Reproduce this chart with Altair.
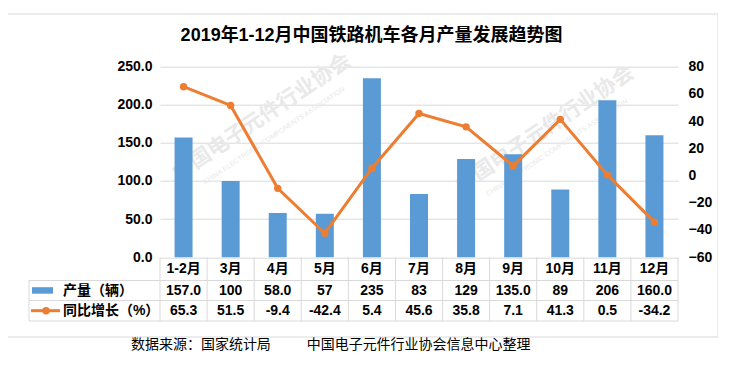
import altair as alt
import pandas as pd

# ---- data ----
categories = ["1-2月", "3月", "4月", "5月", "6月", "7月", "8月", "9月", "10月", "11月", "12月"]
production = [157.0, 100, 58.0, 57, 235, 83, 129, 135.0, 89, 206, 160.0]
production_labels = ["157.0", "100", "58.0", "57", "235", "83", "129", "135.0", "89", "206", "160.0"]
growth = [65.3, 51.5, -9.4, -42.4, 5.4, 45.6, 35.8, 7.1, 41.3, 0.5, -34.2]
growth_labels = ["65.3", "51.5", "-9.4", "-42.4", "5.4", "45.6", "35.8", "7.1", "41.3", "0.5", "-34.2"]
left_ticks = [0, 50, 100, 150, 200, 250]
right_ticks = [-60, -40, -20, 0, 20, 40, 60, 80]

title_text = "2019年1-12月中国铁路机车各月产量发展趋势图"
series1_name = "产量（辆）"
series2_name = "同比增长（%）"
source_left = "数据来源：国家统计局"
source_right = "中国电子元件行业协会信息中心整理"
wm_cn = "中国电子元件行业协会"
wm_en = "CHINA ELECTRONIC COMPONENTS ASSOCIATION"

df = pd.DataFrame({
    "cat": categories,
    "prod": production,
    "prod_label": production_labels,
    "growth": growth,
    "growth_label": growth_labels,
})

W = 518
H = 190.5
BLUE = "#5B9BD5"
ORANGE = "#ED7D31"
GRID = "#D9D9D9"
WM = "#E9E9E9"
FONT = "Liberation Sans, Noto Sans CJK SC, sans-serif"

xscale = alt.Scale(type="band", paddingInner=0, paddingOuter=0)
X = alt.X("cat:N", sort=categories, scale=xscale, axis=None)

one = alt.Data(values=[{}])

bars = alt.Chart(df).mark_bar(size=18, color=BLUE).encode(
    x=X,
    y=alt.Y("prod:Q", scale=alt.Scale(domain=[0, 250], nice=False),
            axis=alt.Axis(values=left_ticks, format=".1f", grid=True, gridColor=GRID,
                          ticks=False, domain=False, labelPadding=8, labelFontSize=14,
                          labelFontWeight="bold", labelColor="#000", labelFont=FONT),
            title=None),
)

line = alt.Chart(df).mark_line(color=ORANGE, strokeWidth=3,
                               point=alt.OverlayMarkDef(filled=True, color=ORANGE, size=55)).encode(
    x=X,
    y=alt.Y("growth:Q", scale=alt.Scale(domain=[-60, 80], nice=False),
            axis=alt.Axis(orient="right", values=right_ticks, grid=False, ticks=False,
                          domain=False, labelPadding=10, labelFontSize=14,
                          labelFontWeight="bold", labelColor="#000", labelFont=FONT),
            title=None),
)

# ---- watermark (faint, behind) ----
wm_layers = []
for cx, cy in [(102, 51), (385, 63)]:
    wm_layers.append(alt.Chart(one).mark_text(angle=326, fontSize=21, fontWeight="bold",
                                              font="Noto Sans CJK SC", color=WM).encode(
        x=alt.value(cx), y=alt.value(cy), text=alt.value(wm_cn)))
    wm_layers.append(alt.Chart(one).mark_text(angle=326, fontSize=7, font=FONT, color=WM).encode(
        x=alt.value(cx + 12), y=alt.value(cy + 18), text=alt.value(wm_en)))

# ---- table ----
row_tops = [H, 213.8, 233.8, 254.3]
txt = dict(fontSize=14, fontWeight="bold", font=FONT, color="#000")
header = alt.Chart(df).mark_text(**txt).encode(x=X, y=alt.value(202.5), text="cat:N")
row1 = alt.Chart(df).mark_text(**txt).encode(x=X, y=alt.value(224), text="prod_label:N")
row2 = alt.Chart(df).mark_text(**txt).encode(x=X, y=alt.value(244.5), text="growth_label:N")

vlines = alt.Chart(df).mark_rule(color=GRID, strokeWidth=1).encode(
    x=alt.X("cat:N", sort=categories, scale=xscale, axis=None, bandPosition=0),
    y=alt.value(H), y2=alt.value(row_tops[3]))
right_edge = alt.Chart(one).mark_rule(color=GRID).encode(
    x=alt.value(W), y=alt.value(H), y2=alt.value(row_tops[3]))
left_edge = alt.Chart(one).mark_rule(color=GRID).encode(
    x=alt.value(-131), y=alt.value(row_tops[1]), y2=alt.value(row_tops[3]))
hlines = [alt.Chart(one).mark_rule(color=GRID).encode(
    x=alt.value(-131), x2=alt.value(W), y=alt.value(yv)) for yv in row_tops[1:]]

sym_bar = alt.Chart(one).mark_rect(color=BLUE).encode(
    x=alt.value(-128), x2=alt.value(-107), y=alt.value(220.5), y2=alt.value(227))
sym_line = alt.Chart(one).mark_rule(color=ORANGE, strokeWidth=3).encode(
    x=alt.value(-129), x2=alt.value(-100), y=alt.value(244))
sym_pt = alt.Chart(one).mark_point(filled=True, color=ORANGE, size=55, opacity=1).encode(
    x=alt.value(-114), y=alt.value(244))
lab1 = alt.Chart(one).mark_text(align="left", **txt).encode(
    x=alt.value(-97), y=alt.value(224), text=alt.value(series1_name))
lab2 = alt.Chart(one).mark_text(align="left", **txt).encode(
    x=alt.value(-97), y=alt.value(244.5), text=alt.value(series2_name))

# ---- decorations ----
border = alt.Chart(one).mark_rect(fill="transparent", stroke=GRID, strokeWidth=1).encode(
    x=alt.value(-154), x2=alt.value(558), y=alt.value(-52.7), y2=alt.value(270.3))
title = alt.Chart(one).mark_text(fontSize=18, fontWeight="bold", font=FONT, color="#000").encode(
    x=alt.value(211.5), y=alt.value(-31), text=alt.value(title_text))
src1 = alt.Chart(one).mark_text(align="left", fontSize=14, font="Noto Sans CJK SC", color="#000").encode(
    x=alt.value(-29), y=alt.value(278.5), text=alt.value(source_left))
src2 = alt.Chart(one).mark_text(align="left", fontSize=14, font="Noto Sans CJK SC", color="#000").encode(
    x=alt.value(146.7), y=alt.value(278.5), text=alt.value(source_right))

chart = alt.layer(
    border, *wm_layers, bars, line, vlines, right_edge, left_edge, *hlines,
    header, row1, row2, sym_bar, sym_line, sym_pt, lab1, lab2, title, src1, src2
).resolve_scale(y="independent").properties(
    width=W, height=H,
    autosize=alt.AutoSizeParams(type="none"),
    padding={"left": 152, "top": 58.7, "right": 40, "bottom": 95},
).configure_view(stroke=None)

chart.save("out.html", embed_options={"renderer": "svg", "actions": False})
